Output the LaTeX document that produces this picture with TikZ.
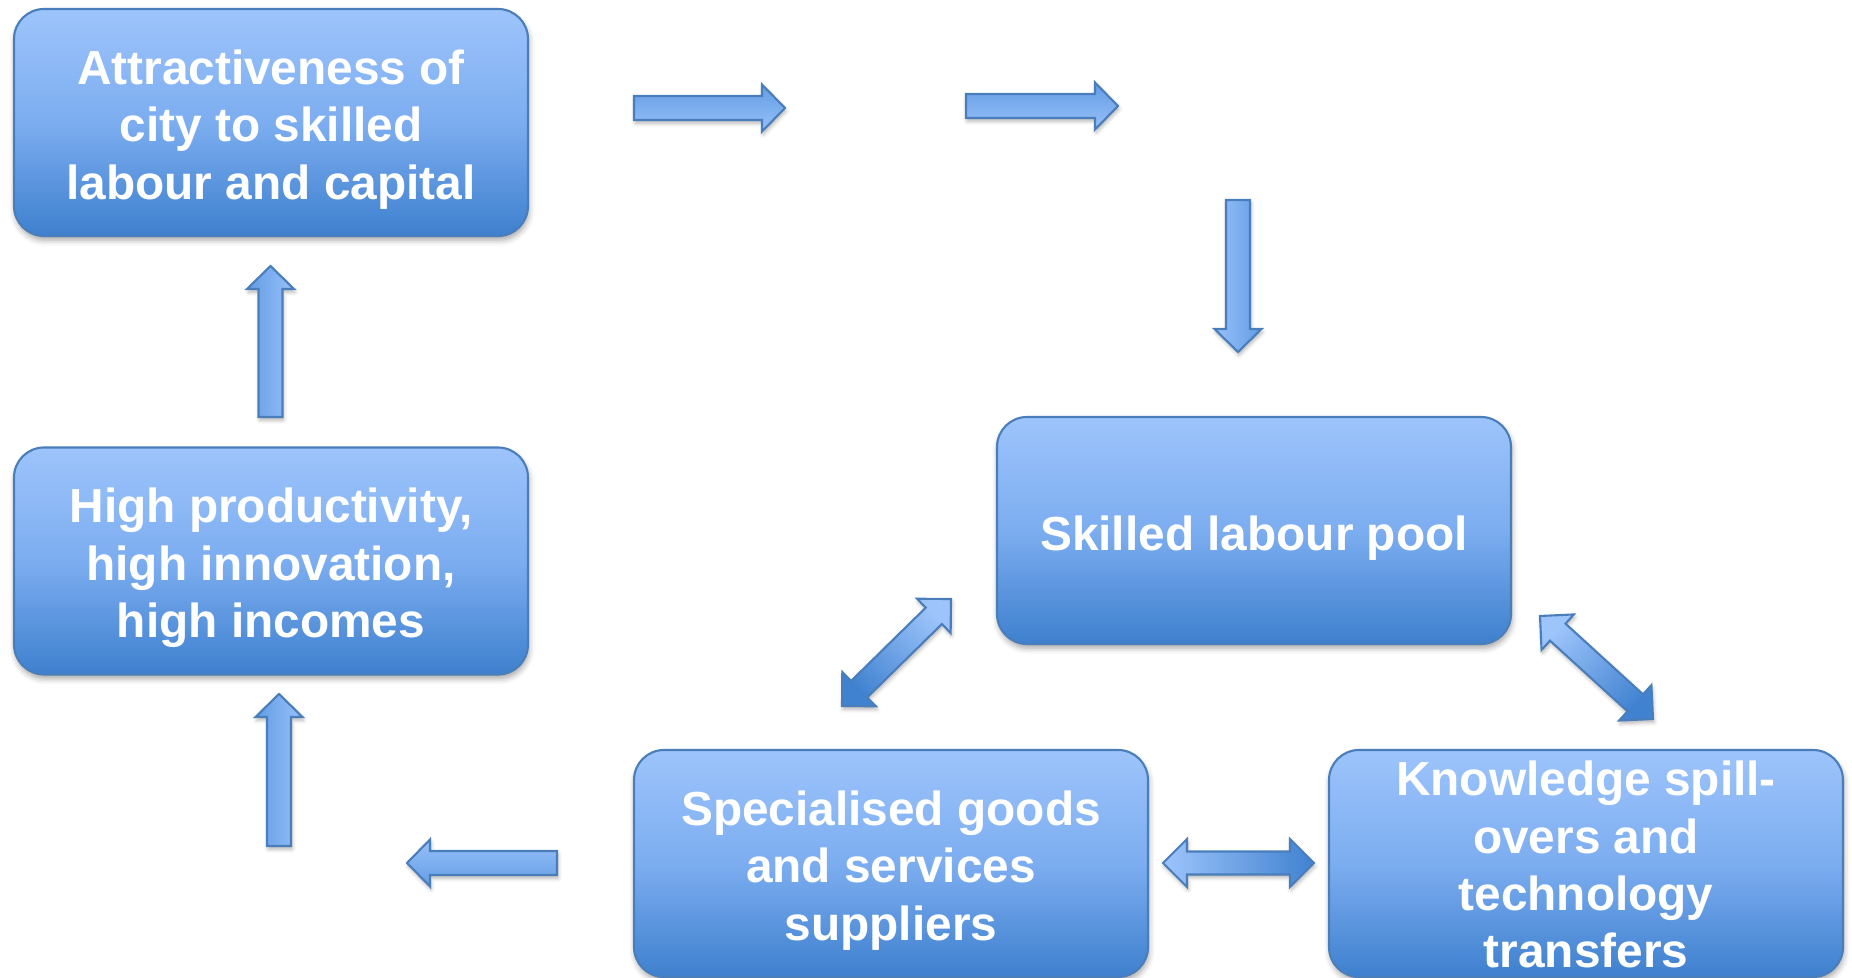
\documentclass[tikz,border=0pt]{standalone}
\usepackage{fontspec}
\setmainfont{Liberation Sans}
\usetikzlibrary{calc,shadows.blur}
\definecolor{bxtop}{RGB}{157,196,251}
\definecolor{bxmid}{RGB}{124,173,240}
\definecolor{bxbot}{RGB}{62,128,206}
\definecolor{bordc}{RGB}{74,126,187}
\definecolor{adark}{RGB}{98,156,228}
\definecolor{alight}{RGB}{152,193,250}
\definecolor{dlight}{RGB}{157,196,251}
\definecolor{ddark}{RGB}{64,130,208}
\pgfdeclareverticalshading{boxshade}{100bp}{color(0bp)=(bxbot); color(25bp)=(bxbot); color(50bp)=(bxmid); color(75bp)=(bxtop); color(100bp)=(bxtop)}
\newcommand\sarrow[5]{%
 \def\arrsw{0.12}\def\arrhw{0.235}\def\arrhl{0.23}%
 \coordinate (u) at (#2,#3);
 \coordinate (n) at ({-1*(#3)},{#2});
 \path[arrstyle,#5] ($(#1)+{-\arrsw}*(n)$) -- ($(#1)+{#4-\arrhl}*(u)+{-\arrsw}*(n)$) -- ($(#1)+{#4-\arrhl}*(u)+{-\arrhw}*(n)$) -- ($(#1)+{#4}*(u)$) -- ($(#1)+{#4-\arrhl}*(u)+{\arrhw}*(n)$) -- ($(#1)+{#4-\arrhl}*(u)+{\arrsw}*(n)$) -- ($(#1)+{\arrsw}*(n)$) -- cycle;}
\newcommand\darrow[5]{%
 \def\arrsw{0.115}\def\arrhw{0.24}\def\arrhl{0.24}%
 \coordinate (u) at (#2,#3);
 \coordinate (n) at ({-1*(#3)},{#2});
 \path[arrstyle,#5] (#1) -- ($(#1)+{\arrhl}*(u)+{\arrhw}*(n)$) -- ($(#1)+{\arrhl}*(u)+{\arrsw}*(n)$) -- ($(#1)+{#4-\arrhl}*(u)+{\arrsw}*(n)$) -- ($(#1)+{#4-\arrhl}*(u)+{\arrhw}*(n)$) -- ($(#1)+{#4}*(u)$) -- ($(#1)+{#4-\arrhl}*(u)+{-\arrhw}*(n)$) -- ($(#1)+{#4-\arrhl}*(u)+{-\arrsw}*(n)$) -- ($(#1)+{\arrhl}*(u)+{-\arrsw}*(n)$) -- ($(#1)+{\arrhl}*(u)+{-\arrhw}*(n)$) -- cycle;}
\tikzset{
  box/.style={rectangle, rounded corners=0.3cm, draw=bordc, line width=0.6pt,
    shade, shading=boxshade, minimum width=5.14cm, minimum height=2.27cm,
    inner sep=0pt,
    blur shadow={shadow xshift=0.3pt, shadow yshift=-1.2pt, shadow blur radius=1.6pt, shadow opacity=35}},
  boxtext/.style={text=white, align=center, inner sep=0pt,
    font=\bfseries\fontsize{13.6}{16.3}\selectfont},
  arrstyle/.style={draw=bordc, line width=0.6pt, line join=miter,
    blur shadow={shadow xshift=0.3pt, shadow yshift=-0.9pt, shadow blur radius=1.1pt, shadow opacity=30}}
}
\begin{document}
\begin{tikzpicture}
\useasboundingbox (0,0) rectangle (18.52,9.78);
\node[box] (attr) at (2.71,8.555) {};
\node[box] (prod) at (2.71,4.17) {};
\node[box] (pool) at (12.54,4.475) {};
\node[box] (spec) at (8.91,1.145) {};
\node[box] (know) at (15.86,1.145) {};
\node[boxtext] (attrt) at ([yshift=-0.07cm]attr.center) {Attractiveness of\\city to skilled\\labour and capital};
\node[boxtext] (prodt) at ([yshift=-0.07cm]prod.center) {High productivity,\\high innovation,\\high incomes};
\node[boxtext] (poolt) at ([yshift=-0.08cm]pool.center) {Skilled labour pool};
\node[boxtext] (spect) at ([yshift=-0.07cm]spec.center) {Specialised goods\\and services\\suppliers};
\node[boxtext] (knowt) at ([yshift=-0.012cm]know.center) {Knowledge spill-\\overs and\\technology\\transfers};
\coordinate (a1) at (6.34,8.70);
\coordinate (a2) at (9.66,8.72);
\coordinate (a3) at (12.38,7.78);
\coordinate (a4) at (2.705,5.61);
\coordinate (a5) at (2.79,1.32);
\coordinate (a6) at (5.57,1.15);
\coordinate (d1) at (8.42,2.72);
\coordinate (d2) at (15.40,3.62);
\coordinate (d3) at (11.63,1.15);
\sarrow{a1}{1}{0}{1.51}{top color=adark, bottom color=alight}
\sarrow{a2}{1}{0}{1.52}{top color=adark, bottom color=alight}
\sarrow{a3}{0}{-1}{1.52}{left color=alight, right color=adark}
\sarrow{a4}{0}{1}{1.51}{left color=adark, right color=alight}
\sarrow{a5}{0}{1}{1.52}{left color=adark, right color=alight}
\sarrow{a6}{-1}{0}{1.50}{top color=alight, bottom color=adark}
\darrow{d1}{0.7136}{0.7005}{1.527}{top color=dlight, bottom color=ddark, shading angle=-45}
\darrow{d2}{0.7390}{-0.6736}{1.529}{top color=dlight, bottom color=ddark, shading angle=45}
\darrow{d3}{1}{0}{1.51}{top color=dlight, bottom color=ddark, shading angle=90}
\end{tikzpicture}
\end{document}
